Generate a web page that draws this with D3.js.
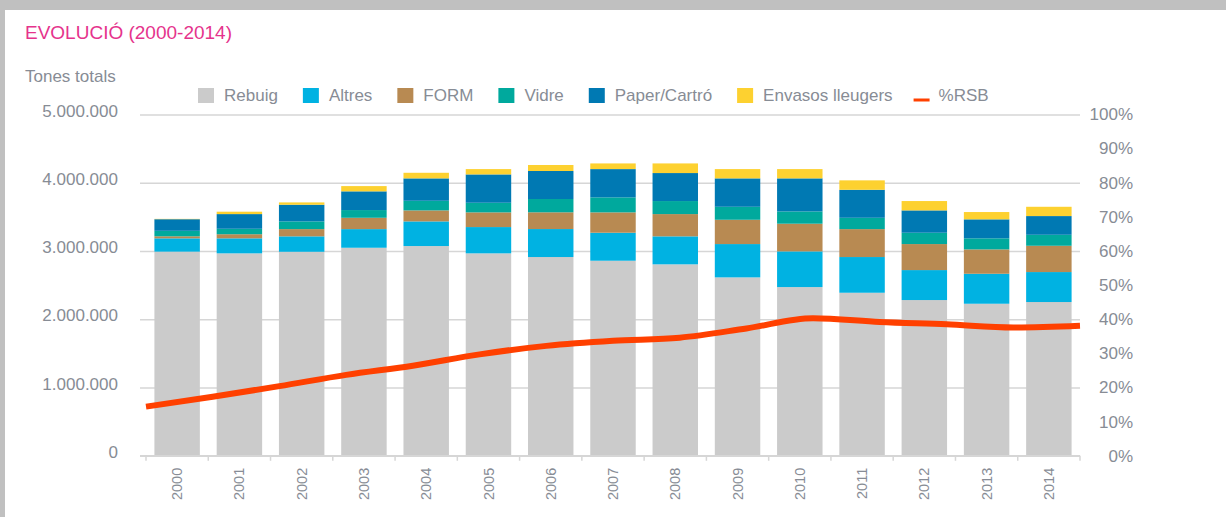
<!DOCTYPE html>
<html>
<head>
<meta charset="utf-8">
<script src="https://cdn.jsdelivr.net/npm/d3@7"></script>
<style>
  body { margin: 0; background: #fff; }
  svg { display: block; font-family: "Liberation Sans", Arial, sans-serif; }
</style>
</head>
<body>
<div id="chart"></div>
<script>
// values in tonnes and %RSB share
const years = ["2000","2001","2002","2003","2004","2005","2006","2007","2008","2009","2010","2011","2012","2013","2014"];
const rebuig  = [2990000, 2965000, 2988000, 3047000, 3072000, 2965000, 2911000, 2857000, 2804000, 2613000, 2471000, 2388000, 2281000, 2227000, 2252000];
const altres  = [195000, 220000, 226000, 273000, 361000, 385000, 410000, 410000, 410000, 488000, 523000, 523000, 439000, 439000, 439000];
const form    = [30000, 60000, 106000, 166000, 161000, 215000, 245000, 298000, 326000, 356000, 405000, 409000, 381000, 357000, 385000];
const vidre   = [80000, 80000, 113000, 113000, 141000, 141000, 195000, 220000, 191000, 190000, 180000, 166000, 166000, 162000, 161000];
const paper   = [170000, 215000, 244000, 274000, 328000, 415000, 410000, 414000, 410000, 416000, 484000, 410000, 327000, 278000, 274000];
const envasos = [5000, 35000, 34000, 77000, 82000, 78000, 88000, 83000, 141000, 136000, 136000, 138000, 137000, 107000, 136000];
const rsb     = [0.144, 0.173, 0.204, 0.237, 0.264, 0.297, 0.322, 0.337, 0.346, 0.373, 0.403, 0.392, 0.385, 0.376, 0.381];

const seriesNames = ["Rebuig", "Altres", "FORM", "Vidre", "Paper/Cartró", "Envasos lleugers"];
const seriesColors = ["#cbcbcb", "#00b2e2", "#b88a52", "#00a99d", "#0079b3", "#fdd130"];
const lineColor = "#ff4000";
const leftTicks = [0, 1000000, 2000000, 3000000, 4000000, 5000000];
const rightTicks = [0, 0.1, 0.2, 0.3, 0.4, 0.5, 0.6, 0.7, 0.8, 0.9, 1];

const width = 1226, height = 517;
const textColor = "#878c95";

const svg = d3.select("#chart").append("svg").attr("width", width).attr("height", height);

// grey frame strips of the original page
svg.append("rect").attr("x", 0).attr("y", 0).attr("width", width).attr("height", 10).attr("fill", "#c0c0c0");
svg.append("rect").attr("x", 0).attr("y", 0).attr("width", 5).attr("height", height).attr("fill", "#c0c0c0");

svg.append("text")
  .attr("x", 25).attr("y", 39)
  .attr("fill", "#e5338c")
  .attr("font-size", 19)
  .text("EVOLUCIÓ (2000-2014)");

svg.append("text")
  .attr("x", 25).attr("y", 82)
  .attr("fill", textColor)
  .attr("font-size", 17)
  .text("Tones totals");

const x = d3.scaleBand().domain(years).range([146, 1080]).paddingInner(0.27).paddingOuter(0.135);
const xLine = d3.scalePoint().domain(years).range([146, 1080]);
const y = d3.scaleLinear().domain([0, 5000000]).range([455.8, 114.4]);
const yR = d3.scaleLinear().domain([0, 1]).range([455.8, 114.4]);

const locale = d3.formatLocale({ decimal: ",", thousands: ".", grouping: [3], currency: ["", "€"] });

// left axis + gridlines
const gLeft = svg.append("g")
  .attr("transform", "translate(140,0)")
  .call(d3.axisLeft(y).tickValues(leftTicks).tickSize(-940).tickPadding(22).tickFormat(locale.format(",")));
gLeft.select(".domain").remove();
gLeft.selectAll(".tick line").attr("stroke", "#d6d6d6").attr("stroke-width", 1.5);
gLeft.selectAll(".tick text").attr("fill", textColor).attr("font-size", 17).attr("dy", "0.1em");

// right axis (percent)
const gRight = svg.append("g")
  .attr("transform", "translate(1080,0)")
  .call(d3.axisRight(yR).tickValues(rightTicks).tickSize(0).tickPadding(53).tickFormat(d3.format(".0%")));
gRight.select(".domain").remove();
gRight.selectAll(".tick text").attr("fill", textColor).attr("font-size", 17).attr("text-anchor", "end");

// stacked bars
const rows = years.map((yr, i) => ({
  year: yr,
  "Rebuig": rebuig[i], "Altres": altres[i], "FORM": form[i],
  "Vidre": vidre[i], "Paper/Cartró": paper[i], "Envasos lleugers": envasos[i]
}));
const stacked = d3.stack().keys(seriesNames)(rows);

svg.append("g")
  .selectAll("g")
  .data(stacked)
  .join("g")
  .attr("fill", (d, i) => seriesColors[i])
  .selectAll("rect")
  .data(d => d)
  .join("rect")
  .attr("x", d => x(d.data.year))
  .attr("width", x.bandwidth())
  .attr("y", d => y(d[1]))
  .attr("height", d => y(d[0]) - y(d[1]));

// bottom axis with ticks between categories
const gBottom = svg.append("g").attr("transform", "translate(0,455.8)");
gBottom.append("line").attr("x1", 140).attr("x2", 1080).attr("stroke", "#d6d6d6").attr("stroke-width", 1.5);
gBottom.selectAll(".sep")
  .data(d3.range(years.length + 1))
  .join("line")
  .attr("class", "sep")
  .attr("x1", i => 146 + i * x.step()).attr("x2", i => 146 + i * x.step())
  .attr("y1", 0).attr("y2", 5)
  .attr("stroke", "#d6d6d6").attr("stroke-width", 1.5);
gBottom.selectAll(".yr")
  .data(years)
  .join("text")
  .attr("class", "yr")
  .attr("transform", d => `translate(${x(d) + x.bandwidth() / 2},12) rotate(-90)`)
  .attr("text-anchor", "end")
  .attr("dy", "0.35em")
  .attr("fill", textColor)
  .attr("font-size", 14.5)
  .text(d => d);

// %RSB line
const line = d3.line()
  .x((d, i) => xLine(years[i]))
  .y(d => yR(d))
  .curve(d3.curveMonotoneX);

svg.append("path")
  .datum(rsb)
  .attr("d", line)
  .attr("fill", "none")
  .attr("stroke", lineColor)
  .attr("stroke-width", 6);

// legend
const legend = svg.append("g");
let lx = 198;
seriesNames.forEach((name, i) => {
  legend.append("rect").attr("x", lx).attr("y", 88).attr("width", 16).attr("height", 15).attr("fill", seriesColors[i]);
  const t = legend.append("text").attr("x", lx + 26).attr("y", 101).attr("fill", textColor).attr("font-size", 17).text(name);
  lx += 26 + t.node().getComputedTextLength() + 25;
});
lx -= 4;
legend.append("line").attr("x1", lx).attr("x2", lx + 16).attr("y1", 100).attr("y2", 100)
  .attr("stroke", lineColor).attr("stroke-width", 3);
legend.append("text").attr("x", lx + 25).attr("y", 101).attr("fill", textColor).attr("font-size", 17).text("%RSB");
</script>
</body>
</html>
